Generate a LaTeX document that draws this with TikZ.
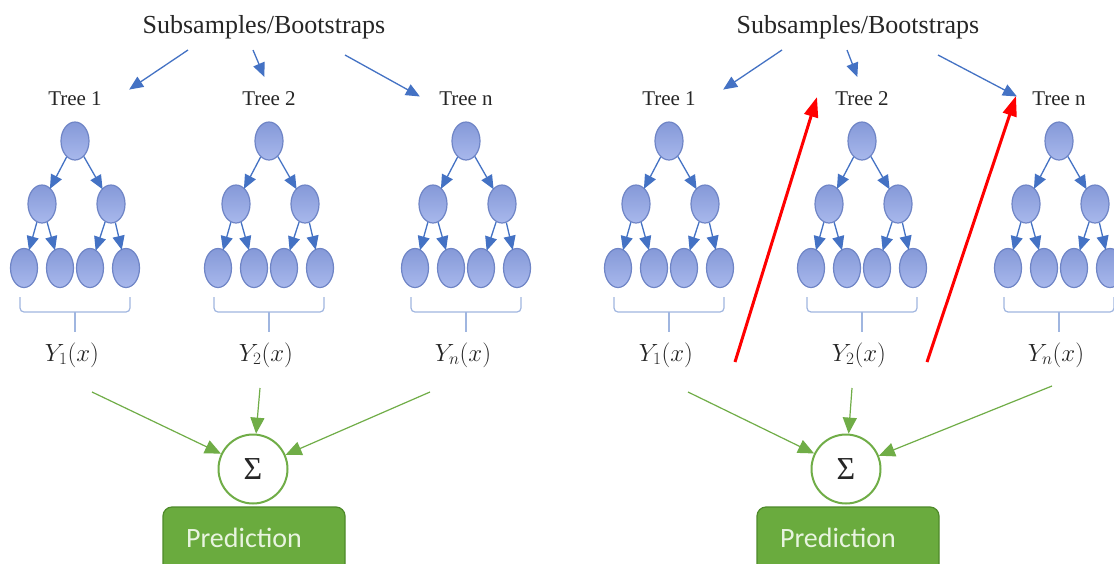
\documentclass[tikz,border=0pt]{standalone}
\usepackage{fontspec}
\setmainfont{Liberation Serif}
\newfontfamily\predfont{Carlito}
\usetikzlibrary{arrows.meta,shapes.geometric}
\definecolor{treeblue}{HTML}{4472C4}
\definecolor{nodeborder}{HTML}{6F85C6}
\definecolor{nodetop}{HTML}{8599D8}
\definecolor{nodebot}{HTML}{A8B8EC}
\definecolor{bracecol}{HTML}{A0B6E0}
\definecolor{sumgreen}{HTML}{70AD47}
\definecolor{predfill}{HTML}{6AAB3E}
\definecolor{predborder}{HTML}{4E8A2A}
\definecolor{predtxt}{HTML}{E8F4DF}
\definecolor{txtcol}{HTML}{262626}

\newcommand{\mytree}[4]{%
  \node[treelabel] (#1lab) at (#2,99) {#3};
  \node[treenode] (#1r) at (#2,141) {};
  \node[treenode] (#1a) at ({#2-33},204) {};
  \node[treenode] (#1b) at ({#2+36},204) {};
  \node[leafnode] (#1aa) at ({#2-51},268) {};
  \node[leafnode] (#1ab) at ({#2-15},268) {};
  \node[leafnode] (#1ba) at ({#2+15},268) {};
  \node[leafnode] (#1bb) at ({#2+51},268) {};
  \draw[bluearrow] (#1r) -- (#1a);
  \draw[bluearrow] (#1r) -- (#1b);
  \draw[bluearrow] (#1a) -- (#1aa);
  \draw[bluearrow] (#1a) -- (#1ab);
  \draw[bluearrow] (#1b) -- (#1ba);
  \draw[bluearrow] (#1b) -- (#1bb);
  \draw[bracestyle, rounded corners=4pt] ({#2-55},297) -- ({#2-55},312) -- ({#2+55},312) -- ({#2+55},297);
  \draw[bracestyle] (#2,312) -- (#2,332);
  \node[ylabel] (#1y) at ({#2-3},355) {#4};
}

\begin{document}
\begin{tikzpicture}[x=1pt,y=-1pt,
  treenode/.style={ellipse, draw=nodeborder, line width=1.2pt, top color=nodetop, bottom color=nodebot, minimum width=28pt, minimum height=38pt, inner sep=0pt},
  leafnode/.style={treenode, minimum width=27pt, minimum height=39pt},
  bluearrow/.style={draw=treeblue, line width=1.3pt, -{Triangle[length=14pt,width=12pt]}, shorten >=-1pt},
  bracestyle/.style={draw=bracecol, line width=1.2pt},
  treelabel/.style={font=\fontsize{21}{24}\selectfont, text=txtcol, inner sep=0pt},
  titlelabel/.style={font=\fontsize{26}{29}\selectfont, text=txtcol, inner sep=0pt},
  ylabel/.style={font=\fontsize{24}{28}\selectfont, text=txtcol, inner sep=0pt},
  sumnode/.style={circle, draw=sumgreen, line width=2pt, fill=white, minimum size=69pt, inner sep=0pt, font=\fontsize{32}{36}\selectfont, text=txtcol},
  greenarrow/.style={draw=sumgreen, line width=1.2pt, -{Triangle[length=16pt,width=14pt]}},
  redarrow/.style={draw=red, line width=3pt, -{Triangle[length=20pt,width=14pt]}},
  predbox/.style={draw=predborder, line width=1.2pt, fill=predfill, rounded corners=9pt, minimum width=182pt, minimum height=76pt},
  predlabel/.style={font=\predfont\fontsize{28}{32}\selectfont, text=predtxt, inner sep=0pt}
]
\useasboundingbox (0,0) rectangle (1114,563);
\fill[white] (0,0) rectangle (1114,563);
\clip (0,0) rectangle (1114,563);

% ---------- left panel ----------
\node[titlelabel] (titleL) at (264,27) {Subsamples/Bootstraps};
\mytree{La}{75}{Tree 1}{$Y_1(x)$}
\mytree{Lb}{269}{Tree 2}{$Y_2(x)$}
\mytree{Lc}{466}{Tree n}{$Y_n(x)$}
\coordinate (tLa1) at (188,50); \coordinate (tLa2) at (130,89);
\coordinate (tLb1) at (253,50); \coordinate (tLb2) at (264,76);
\coordinate (tLc1) at (345,55); \coordinate (tLc2) at (419,96);
\draw[bluearrow] (tLa1) -- (tLa2);
\draw[bluearrow] (tLb1) -- (tLb2);
\draw[bluearrow] (tLc1) -- (tLc2);

\node[predbox] (predL) at (254,545) {};
\node[predlabel] (predLtxt) at (244,538) {Prediction};
\node[sumnode] (sumL) at (253,469) {Σ};
\coordinate (gLa) at (92,392);
\coordinate (gLb) at (260,388);
\coordinate (gLc) at (430,392);
\draw[greenarrow] (gLa) -- (sumL);
\draw[greenarrow] (gLb) -- (sumL);
\draw[greenarrow] (gLc) -- (sumL);

% ---------- right panel ----------
\node[titlelabel] (titleR) at (858,27) {Subsamples/Bootstraps};
\mytree{Ra}{669}{Tree 1}{$Y_1(x)$}
\mytree{Rb}{862}{Tree 2}{$Y_2(x)$}
\mytree{Rc}{1059}{Tree n}{$Y_n(x)$}
\coordinate (tRa1) at (782,50); \coordinate (tRa2) at (724,89);
\coordinate (tRb1) at (847,50); \coordinate (tRb2) at (857,76);
\coordinate (tRc1) at (938,55); \coordinate (tRc2) at (1016,96);
\draw[bluearrow] (tRa1) -- (tRa2);
\draw[bluearrow] (tRb1) -- (tRb2);
\draw[bluearrow] (tRc1) -- (tRc2);

\node[predbox] (predR) at (848,545) {};
\node[predlabel] (predRtxt) at (838,538) {Prediction};
\node[sumnode] (sumR) at (846,469) {Σ};
\coordinate (gRa) at (688,392);
\coordinate (gRb) at (852,388);
\coordinate (gRc) at (1052,386);
\draw[greenarrow] (gRa) -- (sumR);
\draw[greenarrow] (gRb) -- (sumR);
\draw[greenarrow] (gRc) -- (sumR);

\coordinate (rA1) at (735,362); \coordinate (rA2) at (817,97);
\coordinate (rB1) at (927,362); \coordinate (rB2) at (1016,96);
\draw[redarrow] (rA1) -- (rA2);
\draw[redarrow] (rB1) -- (rB2);
\end{tikzpicture}
\end{document}
